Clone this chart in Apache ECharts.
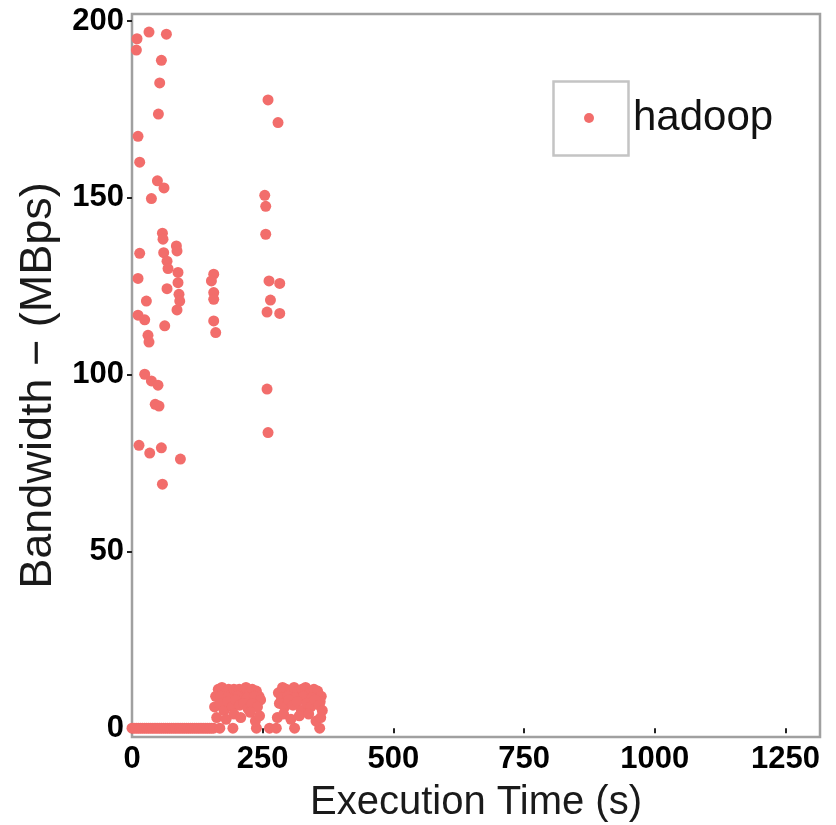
<!DOCTYPE html>
<html>
<head>
<meta charset="utf-8">
<script src="https://cdn.jsdelivr.net/npm/echarts@6/dist/echarts.min.js"></script>
<style>
html,body{margin:0;padding:0;background:#fff;}
#chart{width:836px;height:825px;}
</style>
</head>
<body>
<div id="chart"></div>
<script>
// ---- data ----
var seriesName = 'hadoop';
var xTicks = [0, 250, 500, 750, 1000, 1250];
var yTicks = [0, 50, 100, 150, 200];

// high-bandwidth points: [time (s), bandwidth (MBps)]
var highPoints = [
  [9.6,195.0],[8.4,191.8],[32.5,196.9],[65.8,196.3],[56.2,188.9],[53.0,182.5],
  [50.5,173.7],[11.5,167.4],[14.7,160.1],[48.6,154.8],[61.2,152.8],[37.1,149.8],
  [58.2,140.0],[59.3,138.3],[84.9,136.4],[86.1,135.0],[14.7,134.3],[60.6,134.5],
  [67.0,132.1],[68.9,130.0],[88.0,128.9],[11.5,127.2],[88.0,126.0],[67.0,124.3],
  [89.9,122.7],[91.3,120.8],[27.5,120.8],[86.1,118.3],[11.5,116.8],[24.3,115.5],
  [62.6,113.8],[30.6,111.1],[32.5,109.2],[24.3,100.1],[37.1,98.2],[49.7,97.0],
  [51.7,91.1],[44.4,91.6],[13.4,80.0],[33.9,77.8],[56.2,79.3],[92.6,76.1],[58.2,69.0],
  [156.3,128.4],[151.9,126.5],[156.3,123.2],[156.3,121.3],[156.3,115.2],[160.1,111.9],
  [260.2,177.7],[279.3,171.3],[253.9,150.7],[255.8,147.6],[255.8,139.7],[262.1,126.5],
  [282.6,125.8],[264.8,121.1],[258.3,117.7],[282.6,117.3],[258.3,95.9],[260.2,83.6]
];

// near-zero points
var zeroTimes = [0,4,8,12,16,20,24,28,32,36,40,44,48,52,56,60,64,68,72,76,80,84,88,92,
  96,100,104,108,112,116,120,124,128,132,136,140,144,148,152,156,168,193,238,263,276,311,359];
var lowPoints = [
  [160,9],[165,11],[172,11.5],[178,10],[185,11],[190,9.5],[195,11],[200,10.5],[205,11],
  [212,9],[218,11.5],[225,10],[230,11],[238,10.5],[243,9],
  [170,9],[182,8.5],[202,9],[220,8.5],[234,9],[246,8],
  [158,6],[168,7],[176,5],[183,7.5],[192,6],[198,8],[206,6.5],[214,7],[222,5.5],[230,7],[240,6],
  [162,3],[180,2.5],[195,4],[208,3],[226,4.5],[236,2],[244,3.5],
  [280,10],[288,11.5],[295,11],[302,10],[310,11.5],[318,10.5],[325,11],[332,11.5],[340,10],
  [348,11],[355,10.5],[362,9],
  [286,8.5],[298,9],[312,8.5],[328,9],[344,8.5],[360,7.5],
  [282,7],[292,6],[300,8],[308,6.5],[316,7.5],[324,5],[334,7],[342,6],[350,8],[358,6.5],[364,5],
  [278,3],[290,4],[304,2.5],[320,3.5],[338,4],[352,2],[361,3]
];

var allPoints = highPoints.concat(zeroTimes.map(function(t){return [t,0];})).concat(lowPoints);

var chart = echarts.init(document.getElementById('chart'), null, {renderer:'canvas'});
var tickLabelStyle = {color:'#000', fontSize:31, fontWeight:'bold', fontFamily:'Liberation Sans, Arial, sans-serif'};
function plain(v){ return String(v); }
chart.setOption({
  backgroundColor:'#fff',
  animation:false,
  grid:{left:132, right:16, top:14, bottom:88, outerBoundsMode:'none', containLabel:false,
        show:true, borderColor:'#a0a0a0', borderWidth:2.5, backgroundColor:'transparent'},
  xAxis:{
    type:'value', min:0, max:1316,
    name:'Execution Time (s)', nameLocation:'middle', nameGap:46,
    nameTextStyle:{color:'#1a1a1a', fontSize:40, fontFamily:'Liberation Sans, Arial, sans-serif'},
    axisLine:{show:false},
    axisTick:{show:true, length:5, lineStyle:{color:'#222', width:2}, customValues:xTicks},
    axisLabel:Object.assign({margin:7, customValues:xTicks, formatter:plain}, tickLabelStyle),
    splitLine:{show:false}
  },
  yAxis:{
    type:'value', min:-2.5, max:202,
    name:'Bandwidth \u2212 (MBps)', nameLocation:'middle', nameGap:70, nameRotate:90,
    nameTextStyle:{color:'#1a1a1a', fontSize:45, fontFamily:'Liberation Sans, Arial, sans-serif', padding:[0,0,0,-20]},
    axisLine:{show:false},
    axisTick:{show:true, length:5, lineStyle:{color:'#222', width:2}, customValues:yTicks},
    axisLabel:Object.assign({margin:8, customValues:yTicks, formatter:plain}, tickLabelStyle),
    splitLine:{show:false}
  },
  legend:{
    show:true, left:584, top:97, padding:0,
    icon:'circle', itemWidth:10, itemHeight:10,
    textStyle:{color:'#111', fontSize:42, fontFamily:'Liberation Sans, Arial, sans-serif', padding:[0,0,0,34]},
    data:[seriesName]
  },
  graphic:[{
    type:'rect', left:551, top:79, silent:true,
    shape:{width:75, height:74},
    style:{fill:'none', stroke:'#c4c4c4', lineWidth:2.5}
  }],
  series:[{
    name:seriesName, type:'scatter', symbol:'circle', symbolSize:11,
    itemStyle:{color:'#F26D6B', opacity:1},
    data:allPoints
  }]
});
</script>
</body>
</html>
